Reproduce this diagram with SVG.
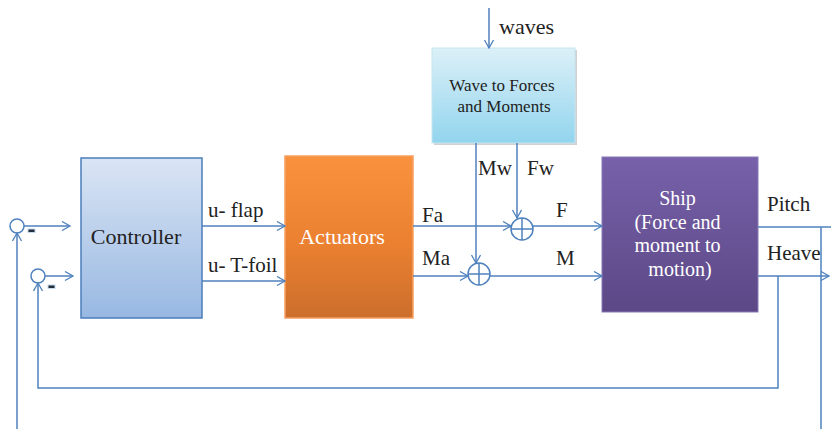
<svg xmlns="http://www.w3.org/2000/svg" width="831" height="429" viewBox="0 0 831 429">
<defs>
<linearGradient id="gCtrl" x1="0" y1="0" x2="0" y2="1"><stop offset="0" stop-color="#dae5f4"/><stop offset="1" stop-color="#98b8e2"/></linearGradient>
<linearGradient id="gAct" x1="0" y1="0" x2="0" y2="1"><stop offset="0" stop-color="#f9923e"/><stop offset="0.55" stop-color="#ea8030"/><stop offset="1" stop-color="#cc6e2c"/></linearGradient>
<linearGradient id="gShip" x1="0" y1="0" x2="0" y2="1"><stop offset="0" stop-color="#7761aa"/><stop offset="1" stop-color="#5c4886"/></linearGradient>
<linearGradient id="gWave" x1="0" y1="0" x2="0" y2="1"><stop offset="0" stop-color="#dcf0f8"/><stop offset="1" stop-color="#92d5ee"/></linearGradient>
<marker id="ah" markerWidth="12" markerHeight="12" refX="9" refY="5" orient="auto" markerUnits="userSpaceOnUse">
<path d="M1,0.5 L9,5 L1,9.5" fill="none" stroke="#4f81bd" stroke-width="1.3"/>
</marker>
</defs>
<style>
.ln{fill:none;stroke:#4f81bd;stroke-width:1.5}
.lbl{font-family:"Liberation Serif","Times New Roman",serif;font-size:21px;fill:#222}
.wt{font-family:"Liberation Serif","Times New Roman",serif;fill:#fff}
.sum{fill:#fff;stroke:#4f81bd;stroke-width:1.5}
.minus{fill:#1f2d3d;stroke:#c6d9f0;stroke-width:1}
</style>
<rect width="831" height="429" fill="#fff"/>

<g id="controller">
<rect x="81" y="158" width="121" height="160" fill="url(#gCtrl)" stroke="#4a7ebb" stroke-width="1.5"/>
<text x="136" y="244" text-anchor="middle" class="lbl" style="font-size:22px">Controller</text>
</g>

<g id="actuators">
<rect x="285" y="156" width="128" height="162" fill="url(#gAct)" stroke="#f7a062" stroke-width="1.5"/>
<text x="342" y="244" text-anchor="middle" class="wt" style="font-size:22px">Actuators</text>
</g>

<g id="ship">
<rect x="602" y="157" width="156" height="155" fill="url(#gShip)" stroke="#8a78b8" stroke-width="1"/>
<text class="wt" style="font-size:20px" text-anchor="middle">
<tspan x="680" y="205">Ship</tspan>
<tspan x="680" y="229">(Force and</tspan>
<tspan x="680" y="252">moment to</tspan>
<tspan x="680" y="276">motion)</tspan>
</text>
</g>

<g id="wave">
<rect x="434" y="50" width="143" height="95" fill="#000" opacity="0.18"/>
<rect x="432" y="48" width="143" height="95" fill="url(#gWave)" stroke="#c5e6f2" stroke-width="1"/>
<text class="lbl" style="font-size:17px" text-anchor="middle">
<tspan x="504" y="91">Wave to Forces</tspan>
<tspan x="504" y="112">and Moments</tspan>
</text>
</g>

<g id="sum1">
<circle cx="17" cy="226" r="7" class="sum"/>
<rect x="28" y="229" width="7" height="3.5" class="minus"/>
</g>
<g id="sum2">
<circle cx="38" cy="276" r="7" class="sum"/>
<rect x="48" y="285" width="7" height="3.5" class="minus"/>
</g>
<g id="sumF">
<circle cx="522" cy="229" r="11" class="sum"/>
<path d="M511,229 H533 M522,218 V240" class="ln"/>
</g>
<g id="sumM">
<circle cx="479" cy="274" r="11" class="sum"/>
<path d="M468,274 H490 M479,263 V285" class="ln"/>
</g>

<g id="connectors">
<path d="M24,226 H70" class="ln" marker-end="url(#ah)"/>
<path d="M45,276 H73" class="ln" marker-end="url(#ah)"/>
<path d="M17,429 V233" class="ln" marker-end="url(#ah)"/>
<path d="M778,276 V388 H38 V283" class="ln" marker-end="url(#ah)"/>
<path d="M202,226 H285" class="ln" marker-end="url(#ah)"/>
<path d="M202,281 H285" class="ln" marker-end="url(#ah)"/>
<path d="M413,226 H511" class="ln" marker-end="url(#ah)"/>
<path d="M533,226 H602" class="ln" marker-end="url(#ah)"/>
<path d="M413,276 H468" class="ln" marker-end="url(#ah)"/>
<path d="M490,276 H602" class="ln" marker-end="url(#ah)"/>
<path d="M476,143 V263" class="ln" marker-end="url(#ah)"/>
<path d="M517,143 V218" class="ln" marker-end="url(#ah)"/>
<path d="M489,8 V48" class="ln" marker-end="url(#ah)"/>
<path d="M758,227 H831 M821,227 V429" class="ln"/>
<path d="M758,276 H829" class="ln" marker-end="url(#ah)"/>
</g>

<g id="labels">
<text x="499" y="34" class="lbl" style="font-size:22px">waves</text>
<text x="208" y="217" class="lbl">u- flap</text>
<text x="208" y="272" class="lbl">u- T-foil</text>
<text x="422" y="222" class="lbl">Fa</text>
<text x="422" y="265" class="lbl">Ma</text>
<text x="556" y="217" class="lbl">F</text>
<text x="556" y="265" class="lbl">M</text>
<text x="478" y="175" class="lbl">Mw</text>
<text x="527" y="175" class="lbl">Fw</text>
<text x="767" y="211" class="lbl">Pitch</text>
<text x="767" y="260" class="lbl">Heave</text>
</g>
</svg>
